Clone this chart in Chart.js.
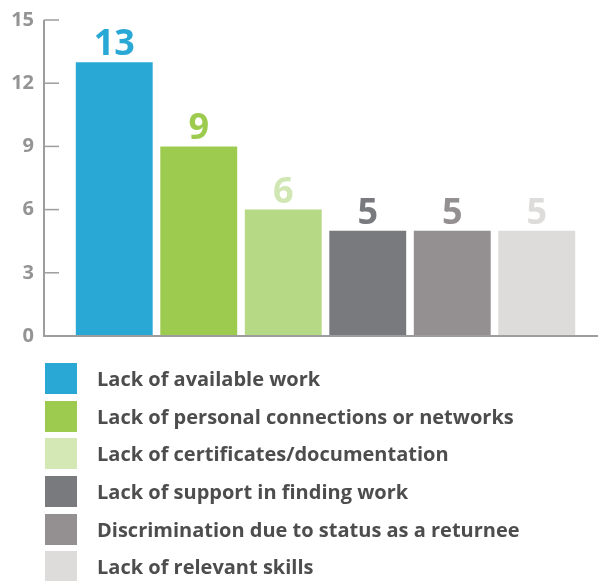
<!DOCTYPE html>
<html>
<head>
<meta charset="utf-8">
<script src="https://cdn.jsdelivr.net/npm/chart.js@4.4.1/dist/chart.umd.min.js"></script>
<style>
  html, body { margin: 0; padding: 0; background: #ffffff; }
  #wrap { position: relative; width: 598px; height: 581px; overflow: hidden; }
  #c { position: absolute; left: 0; top: 0; }
  #legend { position: absolute; left: 45px; top: 363px; margin: 0; padding: 0; list-style: none; }
  #legend li { position: relative; height: 31px; margin-bottom: 6.7px; display: flex; align-items: center; }
  #legend .sw { width: 32px; height: 31px; flex: none; }
  #legend .tx { margin-left: 20px; font-family: "Open Sans", sans-serif; font-weight: 700; font-size: 20px; color: #4d4d4d; white-space: nowrap; }
</style>
</head>
<body>
<div id="wrap">
  <canvas id="c" width="598" height="581"></canvas>
  <ul id="legend"></ul>
</div>
<script>
const categories = [
  "Lack of available work",
  "Lack of personal connections or networks",
  "Lack of certificates/documentation",
  "Lack of support in finding work",
  "Discrimination due to status as a returnee",
  "Lack of relevant skills"
];
const values = [13, 9, 6, 5, 5, 5];
const barColors = ["#29a8d6", "#9ccb4f", "#b6d985", "#797a7e", "#948f90", "#dddcdb"];
const labelColors = ["#29a8d6", "#9ccb4f", "#d0e7b4", "#797a7e", "#948f90", "#dddcdb"];
const legendColors = ["#29a8d6", "#9ccb4f", "#d3e8b5", "#797a7e", "#948f90", "#dddcdb"];
const yTicks = [0, 3, 6, 9, 12, 15];

// HTML legend
const ul = document.getElementById('legend');
categories.forEach((c, i) => {
  const li = document.createElement('li');
  const sw = document.createElement('span'); sw.className = 'sw'; sw.style.background = legendColors[i];
  const tx = document.createElement('span'); tx.className = 'tx'; tx.textContent = c;
  li.appendChild(sw); li.appendChild(tx); ul.appendChild(li);
});

const axisColor = '#9d9d9d';
const axisPlugin = {
  id: 'axisPlugin',
  afterDatasetsDraw(chart) {
    const ctx = chart.ctx;
    const y = chart.scales.y;
    const axX = 44;
    ctx.save();
    ctx.strokeStyle = axisColor;
    ctx.lineWidth = 2;
    ctx.beginPath();
    ctx.moveTo(axX, y.getPixelForValue(yTicks[yTicks.length - 1]));
    ctx.lineTo(axX, y.getPixelForValue(0));
    ctx.lineTo(chart.width, y.getPixelForValue(0));
    ctx.stroke();
    ctx.lineWidth = 1.5;
    yTicks.forEach(v => {
      if (v === 0) return;
      const py = y.getPixelForValue(v);
      ctx.beginPath();
      ctx.moveTo(axX, py);
      ctx.lineTo(axX + 15, py);
      ctx.stroke();
    });
    // value labels
    const meta = chart.getDatasetMeta(0);
    ctx.font = 'bold 36px "Open Sans", sans-serif';
    ctx.textAlign = 'center';
    ctx.textBaseline = 'alphabetic';
    meta.data.forEach((bar, i) => {
      ctx.fillStyle = labelColors[i];
      ctx.fillText(String(values[i]), bar.x, bar.y - 7);
    });
    ctx.restore();
  }
};

new Chart(document.getElementById('c'), {
  type: 'bar',
  data: {
    labels: categories,
    datasets: [{
      data: values,
      backgroundColor: barColors,
      borderWidth: 0,
      categoryPercentage: 1.0,
      barPercentage: 0.91
    }]
  },
  options: {
    responsive: false,
    animation: false,
    devicePixelRatio: 1,
    layout: { padding: { top: 20, right: 19, bottom: 245, left: 0 } },
    plugins: { legend: { display: false }, tooltip: { enabled: false } },
    scales: {
      x: { display: false },
      y: {
        min: 0, max: 15,
        afterFit(scale) { scale.width = 72; },
        afterBuildTicks(scale) { scale.ticks = yTicks.map(v => ({ value: v })); },
        grid: { display: false, drawTicks: true, tickLength: 38 },
        border: { display: false },
        ticks: {
          padding: 0,
          color: '#949494',
          font: { family: '"Open Sans", sans-serif', weight: 'bold', size: 20 }
        }
      }
    }
  },
  plugins: [axisPlugin]
});
</script>
</body>
</html>
